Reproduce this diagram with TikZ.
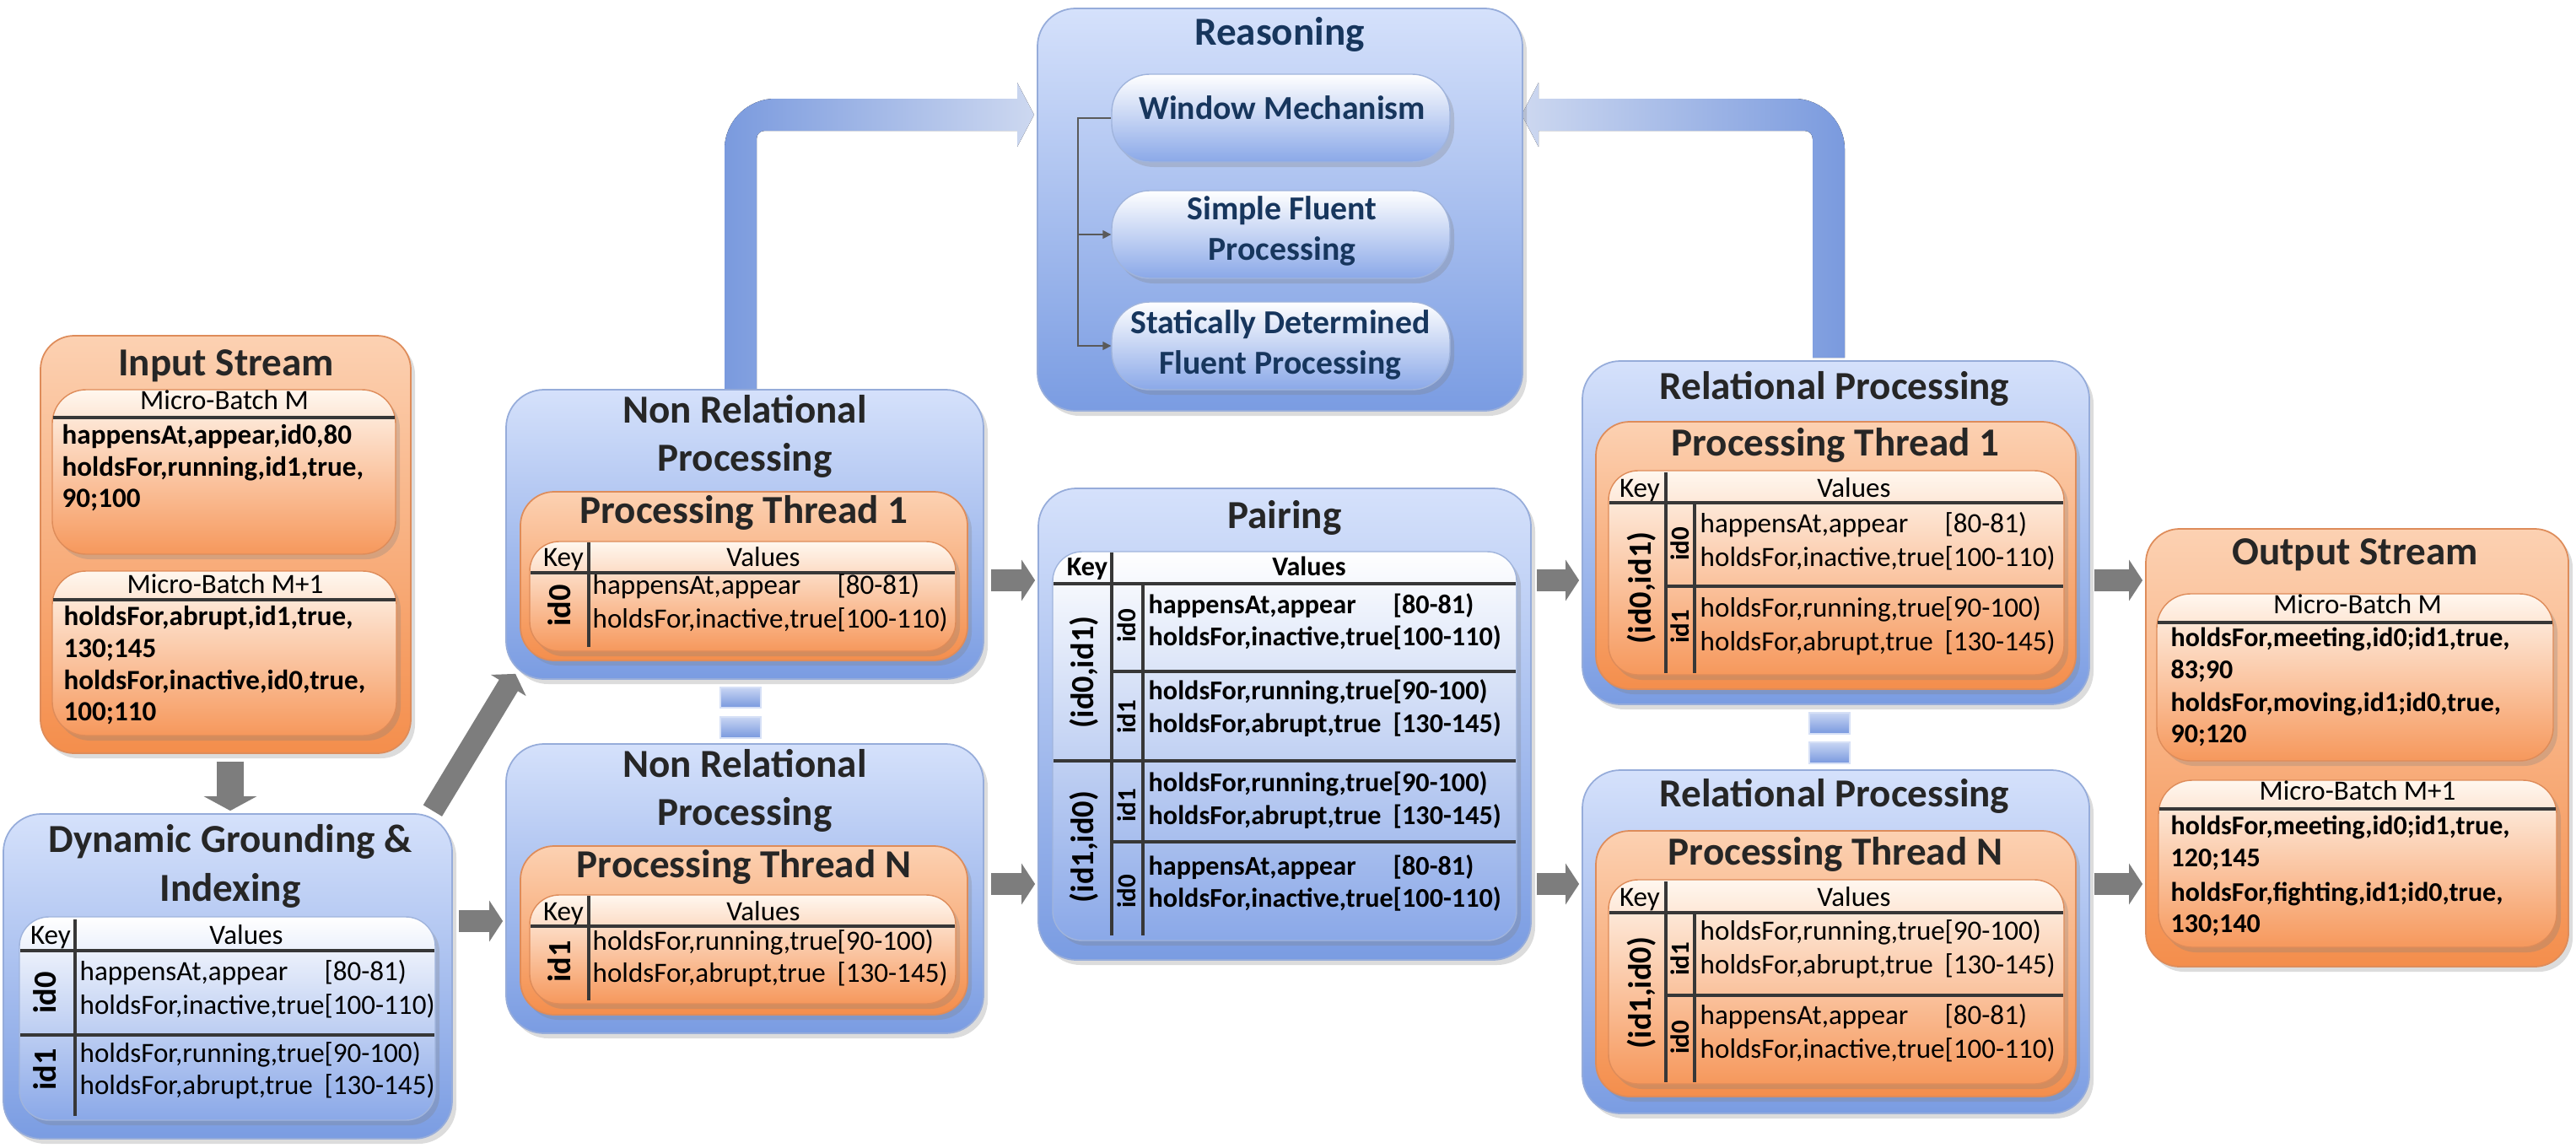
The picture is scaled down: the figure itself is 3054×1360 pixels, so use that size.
\documentclass[tikz,border=0pt]{standalone}
\usepackage{fontspec}
\setmainfont{Carlito}
\usetikzlibrary{shadows,arrows.meta,fit,calc}
\definecolor{bTop}{RGB}{213,225,251}
\definecolor{bBot}{RGB}{122,156,226}
\definecolor{bEdge}{RGB}{150,172,218}
\definecolor{oTop}{RGB}{252,209,178}
\definecolor{oBot}{RGB}{244,142,76}
\definecolor{oEdge}{RGB}{222,140,90}
\definecolor{creamTop}{RGB}{255,247,239}
\definecolor{tBotO}{RGB}{246,152,92}
\definecolor{tBotB}{RGB}{138,168,232}
\definecolor{tEdgeB}{RGB}{160,180,220}
\definecolor{sepTop}{RGB}{200,213,243}
\definecolor{sepBot}{RGB}{120,152,222}
\definecolor{sepEdge}{RGB}{214,224,246}
\definecolor{gArrow}{RGB}{125,125,125}
\definecolor{connC}{RGB}{90,90,90}
\definecolor{navy}{RGB}{23,54,93}
\definecolor{txt}{RGB}{38,38,38}
\definecolor{gline}{RGB}{55,55,55}
\definecolor{lDark}{RGB}{122,154,222}
\definecolor{lLight}{RGB}{205,216,240}
\newcommand\ttlfont{\fontsize{13.4}{16}\selectfont\bfseries}
\newcommand\lnfont{\fontsize{9.4}{11}\selectfont}
\newcommand\lnbfont{\fontsize{9.15}{11}\selectfont\bfseries}
\newcommand\iofont{\fontsize{9.4}{11}\selectfont\bfseries}
\newcommand\oofont{\fontsize{9.1}{11}\selectfont\bfseries}
\newcommand\rkfont{\fontsize{10.9}{13}\selectfont\bfseries}
\newcommand\skfont{\fontsize{8.8}{10}\selectfont\bfseries}
\newcommand\rsubfont{\fontsize{11.3}{13.7}\selectfont\bfseries}
\newlength\brkw
\newlength\brkwb
% style, y, x, text, offset length, bracket
\newcommand\kv[6]{\node[#1] at (#3,#2) {#4};\node[#1] at ([xshift=#5]#3,#2) {#6};}
\tikzset{
  shd/.style={drop shadow={shadow xshift=0.5mm,shadow yshift=-0.6mm,opacity=0.28}},
  bbox/.style={inner sep=0pt, rounded corners=4.5mm, top color=bTop, bottom color=bBot, draw=bEdge, line width=0.5pt, shd},
  obox/.style={inner sep=0pt, rounded corners=4mm, top color=oTop, bottom color=oBot, draw=oEdge, line width=0.5pt, shd},
  mbox/.style={inner sep=0pt, rounded corners=4mm, top color=creamTop, bottom color=tBotO, draw=oEdge, line width=0.4pt, shd},
  btab/.style={inner sep=0pt, rounded corners=3.5mm, top color=white, bottom color=tBotB, draw=tEdgeB, line width=0.4pt, shd},
  otab/.style={inner sep=0pt, rounded corners=3.5mm, top color=creamTop, bottom color=tBotO, draw=oEdge, line width=0.4pt, shd},
  rsub/.style={inner sep=0pt, rounded corners=4.5mm, top color=white, bottom color=tBotB, draw=tEdgeB, line width=0.4pt, shd},
  sepb/.style={top color=sepTop, bottom color=sepBot, draw=sepEdge, line width=0.6pt},
  tline/.style={draw=gline, line width=0.9pt},
  ttl/.style={inner sep=0pt, text height=0.7em, text depth=0.2em, text=txt, font=\ttlfont},
  rtx/.style={inner sep=0pt, text height=0.7em, text depth=0.2em, text=navy, font=\rsubfont},
  ln/.style={anchor=west, inner sep=0pt, text height=0.72em, text depth=0.2em, text=black, font=\lnfont},
  lnb/.style={ln, font=\lnbfont},
  iob/.style={ln, font=\iofont},
  oob/.style={ln, font=\oofont},
  hd/.style={inner sep=0pt, text height=0.72em, text depth=0.2em, text=black, font=\lnfont},
  hdb/.style={hd, font=\lnbfont},
  rk/.style={rotate=90, inner sep=0pt, text height=0.72em, text depth=0.2em, text=black, font=\rkfont},
  sk/.style={rotate=90, inner sep=0pt, text height=0.72em, text depth=0.2em, text=black, font=\skfont},
  garrow/.style={draw=gArrow, line width=2.6mm, -{Triangle[width=4.8mm,length=1.6mm]}},
  garrowv/.style={draw=gArrow, line width=3.2mm, -{Triangle[width=6.2mm,length=1.7mm]}},
  conn/.style={draw=connC, line width=0.45pt},
}
\begin{document}
\settowidth\brkw{\lnfont holdsFor,inactive,true}%
\settowidth\brkwb{\lnbfont holdsFor,inactive,true}%
\begin{tikzpicture}[x=0.01cm,y=-0.01cm]
\useasboundingbox (0,0) rectangle (3054,1360);

% ---------- blue feedback arrows ----------
\fill[left color=lDark, right color=lLight] (859,462) -- (859,177) .. controls (859,144) and (886,117) .. (919,117) -- (1206,117) -- (1206,98) -- (1226,136) -- (1206,174) -- (1206,155) -- (907,155) .. controls (901,155) and (897,159) .. (897,165) -- (897,462) -- cycle;
\fill[left color=lLight, right color=lDark] (2187,424) -- (2187,177) .. controls (2187,144) and (2160,117) .. (2127,117) -- (1824,117) -- (1824,98) -- (1804,136) -- (1824,174) -- (1824,155) -- (2139,155) .. controls (2145,155) and (2149,159) .. (2149,165) -- (2149,424) -- cycle;

% ---------- Input Stream ----------
\node[obox, fit={(48,398) (487,893)}] (in) {};
\node[ttl] (inT) at (268,437) {Input Stream};
\node[mbox, fit={(62,462) (469,657)}] (inA) {};
\node[hd] (inAh) at (266,476) {Micro-Batch M};
\draw[tline] (63,495) -- (468,495);
\node[iob] at (73,517) {happensAt,appear,id0,80};
\node[iob] at (73,555) {holdsFor,running,id1,true,};
\node[iob] at (73,592) {90;100};
\node[mbox, fit={(62,677) (470,872)}] (inB) {};
\node[hd] (inBh) at (267,694) {Micro-Batch M+1};
\draw[tline] (63,711) -- (469,711);
\node[iob] at (75,732) {holdsFor,abrupt,id1,true,};
\node[iob] at (75,770) {130;145};
\node[iob] at (75,808) {holdsFor,inactive,id0,true,};
\node[iob] at (75,845) {100;110};

% ---------- Dynamic Grounding ----------
\node[bbox, fit={(4,965) (536,1350)}] (dg) {};
\node[ttl] at (273,1002) {Dynamic Grounding \&};
\node[ttl] at (273,1060) {Indexing};
\node[btab, fit={(23,1087) (516,1328)}] (dgt) {};
\node[hd] at (60,1110) {Key};
\node[hd] at (292,1110) {Values};
\draw[tline] (24,1127) -- (515,1127);
\draw[tline] (89,1090) -- (89,1323);
\draw[tline] (24,1227) -- (515,1227);
\node[rk] at (57,1177) {id0};
\node[rk] at (57,1268) {id1};
\kv{ln}{1153}{94}{happensAt,appear}{\brkw}{[80-81)}
\kv{ln}{1193}{94}{holdsFor,inactive,true}{\brkw}{[100-110)}
\kv{ln}{1250}{94}{holdsFor,running,true}{\brkw}{[90-100)}
\kv{ln}{1288}{94}{holdsFor,abrupt,true}{\brkw}{[130-145)}

% ---------- Non Relational Processing 1 ----------
\node[bbox, fit={(600,462) (1166,805)}] (nr1) {};
\node[ttl] at (883,493) {Non Relational};
\node[ttl] at (883,550) {Processing};
\node[obox, fit={(617,583) (1147,783)}] (nr1o) {};
\node[ttl] at (882,612) {Processing Thread 1};
\node[otab, fit={(628,642) (1133,772)}] (nr1t) {};
\node[hd] at (668,662) {Key};
\node[hd] at (905,662) {Values};
\draw[tline] (629,679) -- (1132,679);
\draw[tline] (698,643) -- (698,767);
\node[rk] at (667,718) {id0};
\kv{ln}{695}{702}{happensAt,appear}{\brkw}{[80-81)}
\kv{ln}{735}{702}{holdsFor,inactive,true}{\brkw}{[100-110)}

\path[sepb] (854,815) rectangle (902,839);
\path[sepb] (854,850) rectangle (902,875);

% ---------- Non Relational Processing N ----------
\node[bbox, fit={(600,882) (1166,1225)}] (nr2) {};
\node[ttl] at (883,913) {Non Relational};
\node[ttl] at (883,970) {Processing};
\node[obox, fit={(617,1003) (1147,1203)}] (nr2o) {};
\node[ttl] at (882,1032) {Processing Thread N};
\node[otab, fit={(628,1061) (1133,1190)}] (nr2t) {};
\node[hd] at (668,1082) {Key};
\node[hd] at (905,1082) {Values};
\draw[tline] (629,1098) -- (1132,1098);
\draw[tline] (698,1062) -- (698,1186);
\node[rk] at (667,1140) {id1};
\kv{ln}{1117}{702}{holdsFor,running,true}{\brkw}{[90-100)}
\kv{ln}{1155}{702}{holdsFor,abrupt,true}{\brkw}{[130-145)}

% ---------- Reasoning ----------
\node[bbox, fit={(1230,10) (1805,487)}] (rs) {};
\node[ttl, text=navy] at (1517,45) {Reasoning};
\node[rsub, fit={(1318,88) (1719,192)}] (wm) {};
\node[rtx] at (1520,133) {Window Mechanism};
\node[rsub, fit={(1318,226) (1719,330)}] (sf) {};
\node[rtx] at (1520,252) {Simple Fluent};
\node[rtx] at (1520,300) {Processing};
\node[rsub, fit={(1318,358) (1719,462)}] (sd) {};
\node[rtx] at (1518,387) {Statically Determined};
\node[rtx] at (1518,435) {Fluent Processing};
\coordinate (cx) at (1278,0);
\draw[conn, -{Triangle[length=1mm,width=1mm]}] (wm.west) -- (wm.west -| cx) |- (sd.west);
\draw[conn, -{Triangle[length=1mm,width=1mm]}] (sf.west -| cx) -- (sf.west);

% ---------- Pairing ----------
\node[bbox, fit={(1231,579) (1815,1138)}] (pr) {};
\node[ttl] at (1523,618) {Pairing};
\node[btab, fit={(1248,654) (1798,1115)}] (prt) {};
\node[hdb] at (1289,673) {Key};
\node[hdb] at (1552,673) {Values};
\draw[tline] (1249,692) -- (1797,692);
\draw[tline] (1318,655) -- (1318,1109);
\draw[tline] (1355,692) -- (1355,1109);
\draw[tline] (1249,902) -- (1797,902);
\draw[tline] (1318,796) -- (1797,796);
\draw[tline] (1318,998) -- (1797,998);
\node[rk] at (1287,797) {(id0,id1)};
\node[rk] at (1287,1004) {(id1,id0)};
\node[sk] at (1337,742) {id0};
\node[sk] at (1337,850) {id1};
\node[sk] at (1337,955) {id1};
\node[sk] at (1337,1057) {id0};
\kv{lnb}{718}{1361}{happensAt,appear}{\brkwb}{[80-81)}
\kv{lnb}{756}{1361}{holdsFor,inactive,true}{\brkwb}{[100-110)}
\kv{lnb}{820}{1361}{holdsFor,running,true}{\brkwb}{[90-100)}
\kv{lnb}{859}{1361}{holdsFor,abrupt,true}{\brkwb}{[130-145)}
\kv{lnb}{929}{1361}{holdsFor,running,true}{\brkwb}{[90-100)}
\kv{lnb}{968}{1361}{holdsFor,abrupt,true}{\brkwb}{[130-145)}
\kv{lnb}{1028}{1361}{happensAt,appear}{\brkwb}{[80-81)}
\kv{lnb}{1066}{1361}{holdsFor,inactive,true}{\brkwb}{[100-110)}

% ---------- Relational Processing 1 ----------
\node[bbox, fit={(1876,428) (2477,835)}] (r1) {};
\node[ttl] at (2175,465) {Relational Processing};
\node[obox, fit={(1892,500) (2461,817)}] (r1o) {};
\node[ttl] at (2176,532) {Processing Thread 1};
\node[otab, fit={(1907,558) (2447,800)}] (r1t) {};
\node[hd] at (1944,580) {Key};
\node[hd] at (2198,580) {Values};
\draw[tline] (1908,596) -- (2446,596);
\draw[tline] (1975,560) -- (1975,798);
\draw[tline] (2009,596) -- (2009,798);
\draw[tline] (1975,695) -- (2446,695);
\node[rk] at (1948,697) {(id0,id1)};
\node[sk] at (1993,645) {id0};
\node[sk] at (1993,743) {id1};
\kv{ln}{622}{2015}{happensAt,appear}{\brkw}{[80-81)}
\kv{ln}{662}{2015}{holdsFor,inactive,true}{\brkw}{[100-110)}
\kv{ln}{722}{2015}{holdsFor,running,true}{\brkw}{[90-100)}
\kv{ln}{762}{2015}{holdsFor,abrupt,true}{\brkw}{[130-145)}

\path[sepb] (2145,845) rectangle (2193,870);
\path[sepb] (2145,880) rectangle (2193,905);

% ---------- Relational Processing N ----------
\node[bbox, fit={(1876,913) (2477,1320)}] (r2) {};
\node[ttl] at (2175,948) {Relational Processing};
\node[obox, fit={(1892,985) (2461,1300)}] (r2o) {};
\node[ttl] at (2176,1017) {Processing Thread N};
\node[otab, fit={(1907,1043) (2447,1285)}] (r2t) {};
\node[hd] at (1944,1065) {Key};
\node[hd] at (2198,1065) {Values};
\draw[tline] (1908,1082) -- (2446,1082);
\draw[tline] (1975,1045) -- (1975,1283);
\draw[tline] (2009,1082) -- (2009,1283);
\draw[tline] (1975,1180) -- (2446,1180);
\node[rk] at (1948,1177) {(id1,id0)};
\node[sk] at (1993,1137) {id1};
\node[sk] at (1993,1230) {id0};
\kv{ln}{1105}{2015}{holdsFor,running,true}{\brkw}{[90-100)}
\kv{ln}{1145}{2015}{holdsFor,abrupt,true}{\brkw}{[130-145)}
\kv{ln}{1205}{2015}{happensAt,appear}{\brkw}{[80-81)}
\kv{ln}{1245}{2015}{holdsFor,inactive,true}{\brkw}{[100-110)}

% ---------- Output Stream ----------
\node[obox, fit={(2544,627) (3045,1146)}] (out) {};
\node[ttl] at (2792,661) {Output Stream};
\node[mbox, fit={(2557,704) (3027,902)}] (outA) {};
\node[hd] at (2795,718) {Micro-Batch M};
\draw[tline] (2558,738) -- (3026,738);
\node[oob] at (2573,757) {holdsFor,meeting,id0;id1,true,};
\node[oob] at (2573,795) {83;90};
\node[oob] at (2573,834) {holdsFor,moving,id1;id0,true,};
\node[oob] at (2573,871) {90;120};
\node[mbox, fit={(2559,925) (3031,1123)}] (outB) {};
\node[hd] at (2795,939) {Micro-Batch M+1};
\draw[tline] (2560,959) -- (3030,959);
\node[oob] at (2573,980) {holdsFor,meeting,id0;id1,true,};
\node[oob] at (2573,1018) {120;145};
\node[oob] at (2573,1059) {holdsFor,fighting,id1;id0,true,};
\node[oob] at (2573,1096) {130;140};

% ---------- gray arrows ----------
\coordinate (yA) at (0,688);
\coordinate (yB) at (0,1048);
\coordinate (yC) at (0,1092);
\coordinate (xD) at (273,0);
\draw[garrowv, shorten <=0.9mm, shorten >=0.3mm] (in.south -| xD) -- (dg.north -| xD);
\draw[garrow] ($(dg.north east)+(-24,-3)$) -- ($(nr1.south west)+(12,-7)$);
\draw[garrow, shorten <=0.7mm, shorten >=0.3mm] (dg.east |- yC) -- (nr2.west |- yC);
\draw[garrow, shorten <=0.8mm, shorten >=0.3mm] (nr1.east |- yA) -- (pr.west |- yA);
\draw[garrow, shorten <=0.8mm, shorten >=0.3mm] (nr2.east |- yB) -- (pr.west |- yB);
\draw[garrow, shorten <=0.6mm, shorten >=0.3mm] (pr.east |- yA) -- (r1.west |- yA);
\draw[garrow, shorten <=0.6mm, shorten >=0.3mm] (pr.east |- yB) -- (r2.west |- yB);
\draw[garrow, shorten <=0.5mm, shorten >=0.3mm] (r1.east |- yA) -- (out.west |- yA);
\draw[garrow, shorten <=0.5mm, shorten >=0.3mm] (r2.east |- yB) -- (out.west |- yB);
\end{tikzpicture}
\end{document}
